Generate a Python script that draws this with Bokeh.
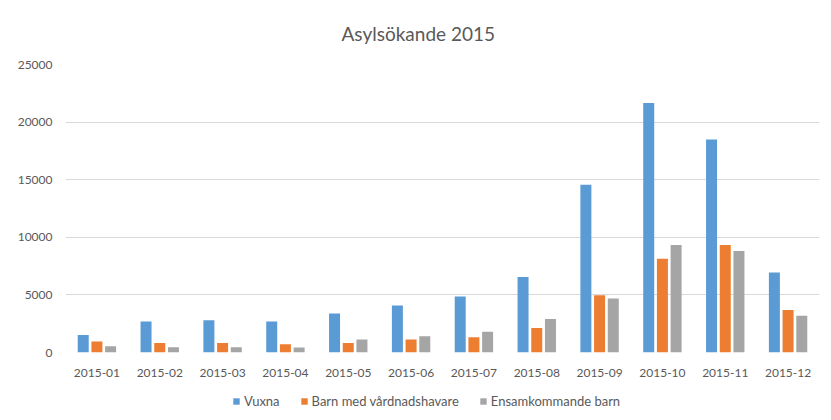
from bokeh.plotting import figure
from bokeh.models import FactorRange, Range1d, FixedTicker, Legend, LegendItem, ColumnDataSource
from bokeh.layouts import column
from bokeh.transform import dodge
from bokeh.embed import file_html
from bokeh.resources import INLINE

months = ["2015-01", "2015-02", "2015-03", "2015-04", "2015-05", "2015-06",
          "2015-07", "2015-08", "2015-09", "2015-10", "2015-11", "2015-12"]
vuxna = [1520, 2700, 2790, 2700, 3390, 4080, 4860, 6550, 14570, 21660, 18500, 6950]
barn_med = [950, 830, 830, 720, 830, 1120, 1320, 2120, 4970, 8130, 9340, 3700]
ensam = [540, 460, 460, 430, 1120, 1400, 1810, 2900, 4680, 9340, 8820, 3190]
series_names = ["Vuxna", "Barn med vårdnadshavare", "Ensamkommande barn"]
y_ticks = [0, 5000, 10000, 15000, 20000, 25000]

COLORS = ["#5B9BD5", "#ED7D31", "#A5A5A5"]
FONT = "Lato"
TXT = "#595959"

src = ColumnDataSource(dict(m=months, v=vuxna, b=barn_med, e=ensam))
cols = ["v", "b", "e"]
offsets = [-0.218, 0.0, 0.218]

p = figure(width=831, height=386, x_range=FactorRange(*months, range_padding=0),
           y_range=Range1d(0, 25000), output_backend="svg", toolbar_location=None,
           min_border_left=65, min_border_right=12, min_border_top=62, min_border_bottom=34)

p.title.text = "Asylsökande 2015"
p.title.align = "left"
p.title.offset = 276
p.title.text_font = FONT
p.title.text_font_size = "19px"
p.title.text_font_style = "normal"
p.title.text_color = TXT
p.title.standoff = 39

w = 0.175
for col, off, c in zip(cols, offsets, COLORS):
    p.vbar(x=dodge("m", off, range=p.x_range), top=col, width=w, source=src,
           fill_color=c, line_color=None)

p.outline_line_color = None
p.xgrid.grid_line_color = None
p.ygrid.grid_line_color = "#d9d9d9"
p.ygrid.grid_line_width = 1
p.yaxis.ticker = FixedTicker(ticks=y_ticks)

for ax in (p.xaxis, p.yaxis):
    ax.axis_line_color = None
    ax.major_tick_line_color = None
    ax.minor_tick_line_color = None
    ax.major_label_text_font = FONT
    ax.major_label_text_font_size = "12px"
    ax.major_label_text_color = TXT
p.yaxis.major_label_standoff = 7
p.xaxis.major_label_standoff = 10

# legend strip (its bars lie far outside its visible range; only the swatches show)
q = figure(width=831, height=34, x_range=FactorRange(*months, range_padding=0),
           y_range=Range1d(1000000, 1000001), output_backend="svg",
           toolbar_location=None, min_border=0)
q.axis.visible = False
q.grid.visible = False
q.outline_line_color = None
items = []
for name, col, off, c in zip(series_names, cols, offsets, COLORS):
    r = q.vbar(x=dodge("m", off, range=q.x_range), top=col, width=w, source=src,
               fill_color=c, line_color=None)
    items.append(LegendItem(label=name, renderers=[r]))
legend = Legend(items=items, orientation="horizontal", location=(167, 11),
                glyph_width=8, glyph_height=8, label_standoff=4, spacing=20,
                label_text_font=FONT, label_text_font_size="13px", label_text_color=TXT,
                border_line_color=None, background_fill_alpha=0, padding=2, margin=0)
q.add_layout(legend, "center")

layout = column(p, q, spacing=0)
open("out.html", "w").write(file_html(layout, INLINE))
